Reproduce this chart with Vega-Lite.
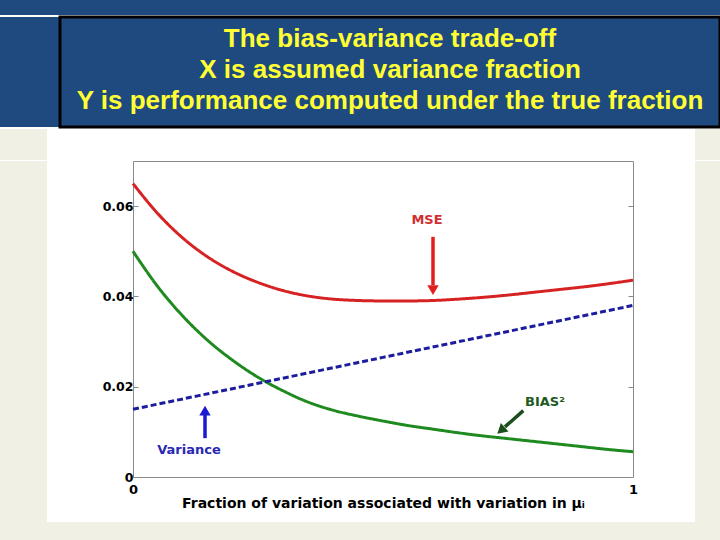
{
  "$schema": "https://vega.github.io/schema/vega-lite/v6.json",
  "background": "white",
  "padding": 0,
  "spacing": 0,
  "config": {"view": {"stroke": null}, "font": "DejaVu Sans", "concat": {"spacing": 0}},
  "datasets": {
    "titleLines": [
      {"line": 1, "text": "The bias-variance trade-off"},
      {"line": 2, "text": "X is assumed variance fraction"},
      {"line": 3, "text": "Y is performance computed under the true fraction"}
    ],
    "curves": [
      {"series": "MSE", "x": 0, "value": 0.065},
      {"series": "MSE", "x": 0.05, "value": 0.0583},
      {"series": "MSE", "x": 0.1, "value": 0.0529},
      {"series": "MSE", "x": 0.15, "value": 0.0487},
      {"series": "MSE", "x": 0.2, "value": 0.0455},
      {"series": "MSE", "x": 0.25, "value": 0.0431},
      {"series": "MSE", "x": 0.3, "value": 0.0413},
      {"series": "MSE", "x": 0.35, "value": 0.0401},
      {"series": "MSE", "x": 0.4, "value": 0.0394},
      {"series": "MSE", "x": 0.45, "value": 0.0391},
      {"series": "MSE", "x": 0.5, "value": 0.039},
      {"series": "MSE", "x": 0.55, "value": 0.039},
      {"series": "MSE", "x": 0.6, "value": 0.0391},
      {"series": "MSE", "x": 0.65, "value": 0.0394},
      {"series": "MSE", "x": 0.7, "value": 0.0398},
      {"series": "MSE", "x": 0.75, "value": 0.0403},
      {"series": "MSE", "x": 0.8, "value": 0.0409},
      {"series": "MSE", "x": 0.85, "value": 0.0415},
      {"series": "MSE", "x": 0.9, "value": 0.0421},
      {"series": "MSE", "x": 0.95, "value": 0.0428},
      {"series": "MSE", "x": 1, "value": 0.0436},
      {"series": "Bias²", "x": 0, "value": 0.05},
      {"series": "Bias²", "x": 0.05, "value": 0.0421},
      {"series": "Bias²", "x": 0.1, "value": 0.0356},
      {"series": "Bias²", "x": 0.15, "value": 0.0302},
      {"series": "Bias²", "x": 0.2, "value": 0.0258},
      {"series": "Bias²", "x": 0.25, "value": 0.0221},
      {"series": "Bias²", "x": 0.3, "value": 0.0191},
      {"series": "Bias²", "x": 0.35, "value": 0.0166},
      {"series": "Bias²", "x": 0.4, "value": 0.0148},
      {"series": "Bias²", "x": 0.45, "value": 0.0135},
      {"series": "Bias²", "x": 0.5, "value": 0.0124},
      {"series": "Bias²", "x": 0.55, "value": 0.0114},
      {"series": "Bias²", "x": 0.6, "value": 0.0106},
      {"series": "Bias²", "x": 0.65, "value": 0.0098},
      {"series": "Bias²", "x": 0.7, "value": 0.0091},
      {"series": "Bias²", "x": 0.75, "value": 0.0085},
      {"series": "Bias²", "x": 0.8, "value": 0.0079},
      {"series": "Bias²", "x": 0.85, "value": 0.0073},
      {"series": "Bias²", "x": 0.9, "value": 0.0067},
      {"series": "Bias²", "x": 0.95, "value": 0.0061},
      {"series": "Bias²", "x": 1, "value": 0.0056},
      {"series": "Variance", "x": 0, "value": 0.015},
      {"series": "Variance", "x": 0.25, "value": 0.02075},
      {"series": "Variance", "x": 0.5, "value": 0.0265},
      {"series": "Variance", "x": 0.75, "value": 0.03225},
      {"series": "Variance", "x": 1, "value": 0.038}
    ],
    "arrows": [
      {"series": "MSE", "x": 0.6, "value": 0.0532, "xEnd": 0.6, "valueEnd": 0.0425},
      {"series": "Variance", "x": 0.144, "value": 0.0086, "xEnd": 0.144, "valueEnd": 0.0138},
      {"series": "Bias²", "x": 0.7806, "value": 0.0147, "xEnd": 0.744, "valueEnd": 0.0111}
    ],
    "heads": [
      {"series": "MSE", "x": 0.6, "value": 0.0414, "dir": 180},
      {"series": "Variance", "x": 0.144, "value": 0.0147, "dir": 0},
      {"series": "Bias²", "x": 0.736, "value": 0.0103, "dir": 228}
    ],
    "labels": [
      {"series": "MSE", "text": "MSE", "x": 0.588, "value": 0.0569},
      {"series": "Variance", "text": "Variance", "x": 0.112, "value": 0.006},
      {"series": "Bias²", "text": "BIAS²", "x": 0.824, "value": 0.0166}
    ]
  },
  "vconcat": [
    {"width": 720, "height": 15, "view": {"fill": "#1f4a80", "stroke": null}, "data": {"values": []}, "mark": "point"},
    {
      "spacing": 0,
      "bounds": "flush",
      "hconcat": [
        {"width": 60, "height": 110, "view": {"fill": "#1f4a80", "stroke": null}, "data": {"values": []}, "mark": "point"},
        {
          "width": 660,
          "height": 110,
          "view": {"fill": "#1f4a80", "stroke": "#000000", "strokeWidth": 3},
          "data": {"name": "titleLines"},
          "mark": {"type": "text", "color": "#ffff33", "fontSize": 26, "fontWeight": "bold", "font": "Liberation Sans", "dy": -2},
          "encoding": {
            "y": {"field": "line", "type": "ordinal", "scale": {"type": "point", "padding": 0.77}, "axis": null},
            "text": {"field": "text"}
          }
        }
      ]
    },
    {
      "spacing": 0,
      "bounds": "flush",
      "hconcat": [
        {"width": 47, "height": 31, "view": {"fill": "#f1f0e4", "stroke": null}, "data": {"values": []}, "mark": "point"},
        {"width": 648, "height": 31, "view": {"fill": "white", "stroke": null}, "data": {"values": []}, "mark": "point"},
        {"width": 25, "height": 31, "view": {"fill": "#f1f0e4", "stroke": null}, "data": {"values": []}, "mark": "point"}
      ]
    },
    {
      "spacing": 0,
      "bounds": "flush",
      "hconcat": [
        {"width": 47, "height": 361, "view": {"fill": "#f1f0e4", "stroke": null}, "data": {"values": []}, "mark": "point"},
        {"width": 86, "height": 361, "view": {"stroke": null}, "data": {"values": []}, "mark": "point"},
        {
          "width": 500,
          "height": 316,
          "view": {"fill": "white", "stroke": "#8a8a8a", "strokeWidth": 1},
          "layer": [
            {
              "data": {"name": "curves"},
              "mark": {"type": "line", "strokeWidth": 3, "interpolate": "monotone", "strokeCap": "butt"},
              "encoding": {
                "x": {"field": "x", "type": "quantitative", "scale": {"domain": [0, 1], "nice": false},
                  "axis": {"title": "Fraction of variation associated with variation in μᵢ", "values": [0, 1], "format": "d", "domain": false, "ticks": false, "grid": false,
                    "labelFont": "DejaVu Sans", "labelFontWeight": "bold", "labelFontSize": 13, "labelColor": "#000000", "labelPadding": 6, "labelFlush": false,
                    "titleFont": "DejaVu Sans", "titleFontWeight": "bold", "titleFontSize": 14, "titleColor": "#000000", "titlePadding": 0}},
                "y": {"field": "value", "type": "quantitative", "scale": {"domain": [0, 0.07], "nice": false},
                  "axis": {"title": null, "values": [0, 0.02, 0.04, 0.06], "labelExpr": "datum.value == 0 ? '0' : format(datum.value, '.2f')", "domain": false, "grid": false,
                    "tickSize": -5, "tickColor": "#8a8a8a", "labelPadding": 5,
                    "labelFont": "DejaVu Sans", "labelFontWeight": "bold", "labelFontSize": 12.5, "labelColor": "#000000"}},
                "color": {"field": "series", "type": "nominal", "scale": {"domain": ["MSE", "Bias²", "Variance"], "range": ["#d62222", "#1f8a1f", "#1c1ca0"]}, "legend": null},
                "strokeDash": {"field": "series", "type": "nominal", "scale": {"domain": ["MSE", "Bias²", "Variance"], "range": [[1, 0], [1, 0], [6, 3]]}, "legend": null}
              }
            },
            {
              "data": {"name": "arrows"},
              "mark": {"type": "rule", "strokeWidth": 3.5},
              "encoding": {
                "x": {"field": "x", "type": "quantitative"},
                "x2": {"field": "xEnd"},
                "y": {"field": "value", "type": "quantitative", "axis": null},
                "y2": {"field": "valueEnd"},
                "color": {"field": "series", "type": "nominal", "scale": {"domain": ["MSE", "Bias²", "Variance"], "range": ["#e01e1e", "#1b4f1b", "#1a1ad2"]}, "legend": null}
              }
            },
            {
              "data": {"name": "heads"},
              "mark": {"type": "point", "shape": "triangle-up", "filled": true, "opacity": 1, "size": 130},
              "encoding": {
                "x": {"field": "x", "type": "quantitative"},
                "y": {"field": "value", "type": "quantitative", "axis": null},
                "angle": {"field": "dir", "type": "quantitative", "scale": null},
                "color": {"field": "series", "type": "nominal", "scale": {"domain": ["MSE", "Bias²", "Variance"], "range": ["#e01e1e", "#1b4f1b", "#1a1ad2"]}, "legend": null}
              }
            },
            {
              "data": {"name": "labels"},
              "mark": {"type": "text", "fontSize": 13, "fontWeight": "bold", "font": "DejaVu Sans"},
              "encoding": {
                "x": {"field": "x", "type": "quantitative"},
                "y": {"field": "value", "type": "quantitative",
                  "axis": {"orient": "right", "title": null, "values": [0.02, 0.04, 0.06], "labels": false, "domain": false, "grid": false, "tickSize": -5, "tickColor": "#8a8a8a"}},
                "text": {"field": "text"},
                "color": {"field": "series", "type": "nominal", "scale": {"domain": ["MSE", "Bias²", "Variance"], "range": ["#d03030", "#1e5a1e", "#2828b4"]}, "legend": null}
              }
            }
          ],
          "resolve": {"scale": {"color": "independent"}, "axis": {"y": "independent"}}
        },
        {"width": 62, "height": 361, "view": {"stroke": null}, "data": {"values": []}, "mark": "point"},
        {"width": 25, "height": 361, "view": {"fill": "#f1f0e4", "stroke": null}, "data": {"values": []}, "mark": "point"}
      ]
    },
    {"width": 720, "height": 18, "view": {"fill": "#f1f0e4", "stroke": null}, "data": {"values": []}, "mark": "point"}
  ]
}
